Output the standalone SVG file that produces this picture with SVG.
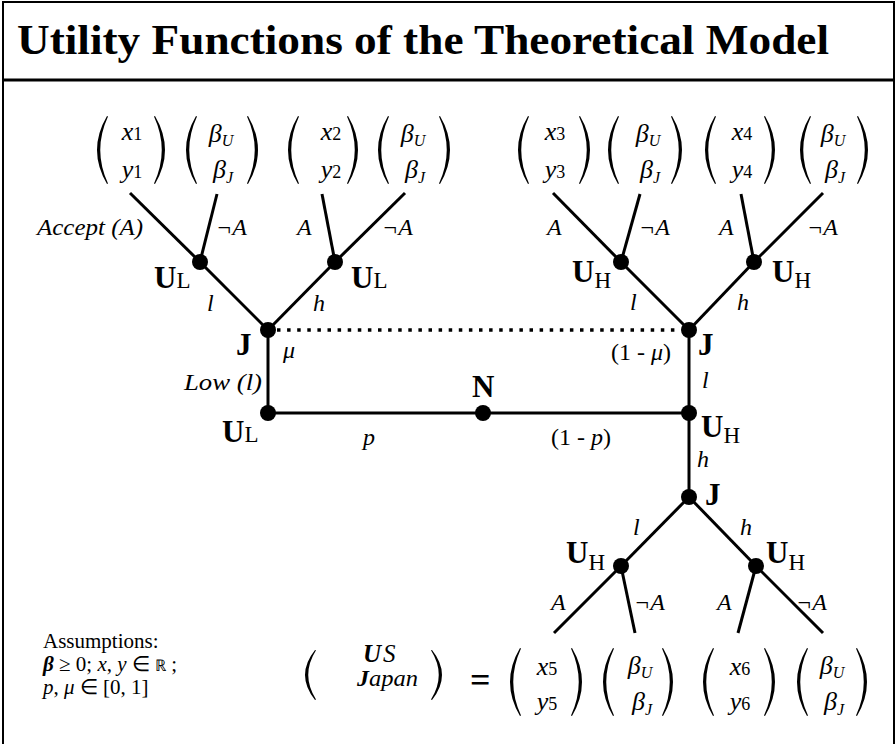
<svg xmlns="http://www.w3.org/2000/svg" width="896" height="744" viewBox="0 0 896 744">
<style>
text{font-family:"Liberation Serif","Times New Roman",serif;fill:#000}
.m{font-style:italic;font-size:26px}
.d{font-style:normal;font-size:18px}
.su{font-style:italic;font-size:16px}
.lab{font-style:italic;font-size:24px}
.up{font-style:normal}
.b{font-weight:bold;font-size:31px}
.sb{font-weight:normal;font-size:23px}
.e{stroke:#000;stroke-width:3;fill:none}
.dot{fill:#000}
</style>
<defs>
<path id="p" d="M12,0 Q-8,34 12,68 L13,67.5 Q-2.5,34 13,0.5 Z" fill="#000"/>
</defs>
<rect x="3" y="2" width="891" height="750" fill="#fff" stroke="#000" stroke-width="2"/>
<line x1="3" y1="80" x2="894" y2="80" stroke="#000" stroke-width="3"/>
<text x="17" y="54" font-size="42" font-weight="bold" textLength="812" lengthAdjust="spacingAndGlyphs">Utility Functions of the Theoretical Model</text>

<g id="connectors">
<line class="e" x1="200" y1="262" x2="130" y2="193"/>
<line class="e" x1="200" y1="262" x2="217" y2="194"/>
<line class="e" x1="335" y1="262" x2="322" y2="194"/>
<line class="e" x1="335" y1="262" x2="405" y2="193"/>
<line class="e" x1="200" y1="262" x2="268" y2="330"/>
<line class="e" x1="335" y1="262" x2="268" y2="330"/>
<line class="e" x1="621" y1="262" x2="553" y2="193"/>
<line class="e" x1="621" y1="262" x2="640" y2="194"/>
<line class="e" x1="754" y1="262" x2="741" y2="194"/>
<line class="e" x1="754" y1="262" x2="823" y2="193"/>
<line class="e" x1="621" y1="262" x2="689" y2="330"/>
<line class="e" x1="754" y1="262" x2="689" y2="330"/>
<line x1="277" y1="330" x2="681" y2="330" stroke="#000" stroke-width="3.5" stroke-dasharray="3.5 6.6"/>
<line class="e" x1="268" y1="330" x2="268" y2="413"/>
<line class="e" x1="268" y1="413" x2="689" y2="413"/>
<line class="e" x1="689" y1="330" x2="689" y2="497"/>
<line class="e" x1="689" y1="497" x2="621" y2="566"/>
<line class="e" x1="689" y1="497" x2="756" y2="566"/>
<line class="e" x1="621" y1="566" x2="554" y2="633"/>
<line class="e" x1="621" y1="566" x2="635" y2="633"/>
<line class="e" x1="756" y1="566" x2="738" y2="633"/>
<line class="e" x1="756" y1="566" x2="823" y2="633"/>
</g>

<g id="edge-labels">
<text class="lab" x="37" y="235" textLength="106" lengthAdjust="spacingAndGlyphs">Accept (A)</text>
<text class="lab" x="216" y="235">¬A</text>
<text class="lab" x="297" y="235">A</text>
<text class="lab" x="382" y="235">¬A</text>
<text class="lab" x="547" y="235">A</text>
<text class="lab" x="639" y="235">¬A</text>
<text class="lab" x="719" y="235">A</text>
<text class="lab" x="807" y="235">¬A</text>
<text class="lab" x="207" y="311">l</text>
<text class="lab" x="313" y="311">h</text>
<text class="lab" x="630" y="310">l</text>
<text class="lab" x="737" y="310">h</text>
<text class="lab" x="283" y="358">μ</text>
<text class="lab" x="611" y="360"><tspan class="up">(1 - </tspan>μ<tspan class="up">)</tspan></text>
<text class="lab" x="184" y="390" textLength="78" lengthAdjust="spacingAndGlyphs">Low (l)</text>
<text class="lab" x="702" y="388">l</text>
<text class="lab" x="363" y="445">p</text>
<text class="lab" x="551" y="445"><tspan class="up">(1 - </tspan>p<tspan class="up">)</tspan></text>
<text class="lab" x="697" y="467">h</text>
<text class="lab" x="633" y="535">l</text>
<text class="lab" x="740" y="535">h</text>
<text class="lab" x="551" y="610">A</text>
<text class="lab" x="634" y="610">¬A</text>
<text class="lab" x="717" y="610">A</text>
<text class="lab" x="796" y="610">¬A</text>
</g>

<g id="node-UL1"><circle class="dot" cx="200" cy="262" r="8"/><text class="b" x="154" y="288">U<tspan class="sb">L</tspan></text></g>
<g id="node-UL2"><circle class="dot" cx="335" cy="262" r="8"/><text class="b" x="351" y="288">U<tspan class="sb">L</tspan></text></g>
<g id="node-UH1"><circle class="dot" cx="621" cy="262" r="8"/><text class="b" x="572" y="282">U<tspan class="sb" dy="6">H</tspan></text></g>
<g id="node-UH2"><circle class="dot" cx="754" cy="262" r="8"/><text class="b" x="772" y="282">U<tspan class="sb" dy="6">H</tspan></text></g>
<g id="node-J1"><circle class="dot" cx="268" cy="330" r="8"/><text class="b" x="236" y="355">J</text></g>
<g id="node-J2"><circle class="dot" cx="689" cy="330" r="8"/><text class="b" x="698" y="355">J</text></g>
<g id="node-UL0"><circle class="dot" cx="268" cy="413" r="8"/><text class="b" x="222" y="442">U<tspan class="sb">L</tspan></text></g>
<g id="node-N"><circle class="dot" cx="483" cy="413" r="8"/><text class="b" x="472" y="397" font-size="28">N</text></g>
<g id="node-UH0"><circle class="dot" cx="689" cy="413" r="8"/><text class="b" x="701" y="437">U<tspan class="sb" dy="6">H</tspan></text></g>
<g id="node-J3"><circle class="dot" cx="689" cy="497" r="8"/><text class="b" x="705" y="505">J</text></g>
<g id="node-UH3"><circle class="dot" cx="621" cy="566" r="8"/><text class="b" x="566" y="563">U<tspan class="sb" dy="7">H</tspan></text></g>
<g id="node-UH4"><circle class="dot" cx="756" cy="566" r="8"/><text class="b" x="766" y="563">U<tspan class="sb" dy="7">H</tspan></text></g>

<g id="payoff-1">
<use href="#p" transform="translate(95,116)"/><use href="#p" transform="translate(167,116) scale(-1,1)"/>
<text class="m" x="132" y="140" text-anchor="middle">x<tspan class="d">1</tspan></text>
<text class="m" x="132" y="178" text-anchor="middle">y<tspan class="d">1</tspan></text>
<use href="#p" transform="translate(184,116)"/><use href="#p" transform="translate(260,116) scale(-1,1)"/>
<text class="m" x="221" y="142" text-anchor="middle">β<tspan class="su" dy="4">U</tspan></text>
<text class="m" x="223" y="178" text-anchor="middle">β<tspan class="su" dy="5">J</tspan></text>
</g>
<g id="payoff-2">
<use href="#p" transform="translate(286,116)"/><use href="#p" transform="translate(360,116) scale(-1,1)"/>
<text class="m" x="331" y="140" text-anchor="middle">x<tspan class="d">2</tspan></text>
<text class="m" x="331" y="178" text-anchor="middle">y<tspan class="d">2</tspan></text>
<use href="#p" transform="translate(376,116)"/><use href="#p" transform="translate(452,116) scale(-1,1)"/>
<text class="m" x="413" y="142" text-anchor="middle">β<tspan class="su" dy="4">U</tspan></text>
<text class="m" x="415" y="178" text-anchor="middle">β<tspan class="su" dy="5">J</tspan></text>
</g>
<g id="payoff-3">
<use href="#p" transform="translate(516,116)"/><use href="#p" transform="translate(592,116) scale(-1,1)"/>
<text class="m" x="555" y="140" text-anchor="middle">x<tspan class="d">3</tspan></text>
<text class="m" x="555" y="178" text-anchor="middle">y<tspan class="d">3</tspan></text>
<use href="#p" transform="translate(606,116)"/><use href="#p" transform="translate(684,116) scale(-1,1)"/>
<text class="m" x="648" y="142" text-anchor="middle">β<tspan class="su" dy="4">U</tspan></text>
<text class="m" x="650" y="178" text-anchor="middle">β<tspan class="su" dy="5">J</tspan></text>
</g>
<g id="payoff-4">
<use href="#p" transform="translate(703,116)"/><use href="#p" transform="translate(777,116) scale(-1,1)"/>
<text class="m" x="742" y="140" text-anchor="middle">x<tspan class="d">4</tspan></text>
<text class="m" x="742" y="178" text-anchor="middle">y<tspan class="d">4</tspan></text>
<use href="#p" transform="translate(798,116)"/><use href="#p" transform="translate(870,116) scale(-1,1)"/>
<text class="m" x="833" y="142" text-anchor="middle">β<tspan class="su" dy="4">U</tspan></text>
<text class="m" x="835" y="178" text-anchor="middle">β<tspan class="su" dy="5">J</tspan></text>
</g>
<g id="payoff-5">
<use href="#p" transform="translate(508,648)"/><use href="#p" transform="translate(584,648) scale(-1,1)"/>
<text class="m" x="547" y="675" text-anchor="middle">x<tspan class="d">5</tspan></text>
<text class="m" x="547" y="710" text-anchor="middle">y<tspan class="d">5</tspan></text>
<use href="#p" transform="translate(601,648)"/><use href="#p" transform="translate(675,648) scale(-1,1)"/>
<text class="m" x="640" y="674" text-anchor="middle">β<tspan class="su" dy="4">U</tspan></text>
<text class="m" x="642" y="710" text-anchor="middle">β<tspan class="su" dy="5">J</tspan></text>
</g>
<g id="payoff-6">
<use href="#p" transform="translate(701,648)"/><use href="#p" transform="translate(777,648) scale(-1,1)"/>
<text class="m" x="740" y="675" text-anchor="middle">x<tspan class="d">6</tspan></text>
<text class="m" x="740" y="710" text-anchor="middle">y<tspan class="d">6</tspan></text>
<use href="#p" transform="translate(795,648)"/><use href="#p" transform="translate(869,648) scale(-1,1)"/>
<text class="m" x="832" y="674" text-anchor="middle">β<tspan class="su" dy="4">U</tspan></text>
<text class="m" x="834" y="710" text-anchor="middle">β<tspan class="su" dy="5">J</tspan></text>
</g>

<g id="legend">
<use href="#p" transform="translate(303,650) scale(1,0.735)"/><use href="#p" transform="translate(444,650) scale(-1,0.735)"/>
<text class="m" x="363" y="662" style="font-size:25px" font-weight="bold">U</text>
<text class="m" x="383" y="662" style="font-size:25px">S</text>
<text class="m" x="357" y="686" style="font-size:24px" font-weight="bold">J</text>
<text class="m" x="369" y="686" style="font-size:24px" textLength="49" lengthAdjust="spacingAndGlyphs">apan</text>
<text x="470" y="692" font-family="Liberation Sans, Arial, sans-serif" font-size="36" font-weight="bold">=</text>
</g>

<g id="assumptions">
<text x="43" y="648" font-size="21">Assumptions:</text>
<text x="43" y="671" font-size="21"><tspan font-style="italic" font-weight="bold">β</tspan> ≥ 0; <tspan font-style="italic">x</tspan>, <tspan font-style="italic">y</tspan> ∈ <tspan font-size="16">ℝ</tspan> ;</text>
<text x="43" y="694" font-size="21"><tspan font-style="italic">p</tspan>, <tspan font-style="italic">μ</tspan> ∈ [0, 1]</text>
</g>
</svg>
